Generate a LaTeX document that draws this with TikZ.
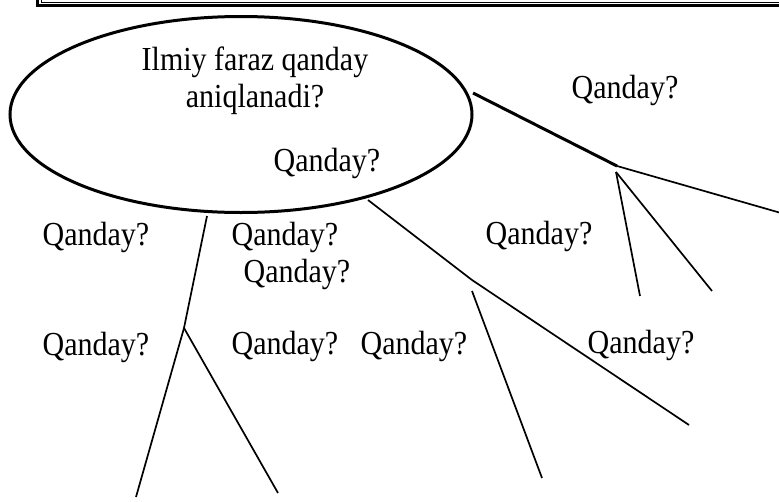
\documentclass[tikz,border=0pt]{standalone}
\usepackage{fontspec}
\usepackage{graphicx}
\setmainfont{Liberation Serif}
\usetikzlibrary{shapes.geometric}
\newcommand{\tallt}[1]{\scalebox{1}[1.12]{#1}}
\begin{document}
\begin{tikzpicture}[x=1pt,y=-1pt,
  lbl/.style={anchor=base,inner sep=0pt,font=\fontsize{30}{34}\selectfont},
  thin/.style={line width=1.7pt},
  thick/.style={line width=3pt},
  oval/.style={draw,ellipse,line width=3pt,minimum width=462pt,minimum height=196pt,inner sep=0pt}]
\useasboundingbox (0,0) rectangle (779,501);
\clip (0,0) rectangle (779,501);
% top frame
\draw[line width=2.4pt] (37.5,-20) rectangle (810,5.5);
\draw[line width=1pt] (41.5,-20) rectangle (810,2.2);
% ellipse
\node[oval] (E) at (241,114.5) {};
\node[lbl] (t1) at (255,70) {\tallt{Ilmiy faraz qanday}};
\node[lbl] (t2) at (255,107) {\tallt{aniqlanadi?}};
\node[lbl] (q0) at (327,171) {\tallt{Qanday?}};
% coordinates
\coordinate (r0) at (473,93);
\coordinate (r1) at (617,166);
\coordinate (r2) at (781,213);
\coordinate (r3) at (616,172);
\coordinate (r4) at (640,296);
\coordinate (r5) at (712,291);
\coordinate (m0) at (368,200);
\coordinate (m1) at (472,280);
\coordinate (m2) at (689,425);
\coordinate (m3) at (472,291);
\coordinate (m4) at (542,478);
\coordinate (l0) at (207,216);
\coordinate (l1) at (184,328);
\coordinate (l2) at (136,497);
\coordinate (l3) at (278,493);
% connectors
\draw[thick] (r0) -- (r1);
\draw[thin] (r1) -- (r2);
\draw[thin] (r3) -- (r4);
\draw[thin] (r3) -- (r5);
\draw[thin] (m0) -- (m1) -- (m2);
\draw[thin] (m3) -- (m4);
\draw[thin] (l0) -- (l1) -- (l2);
\draw[thin] (l1) -- (l3);
% labels
\node[lbl] (q1) at (625,98) {\tallt{Qanday?}};
\node[lbl] (q2) at (96,245) {\tallt{Qanday?}};
\node[lbl] (q3) at (285,245) {\tallt{Qanday?}};
\node[lbl] (q4) at (297,282) {\tallt{Qanday?}};
\node[lbl] (q5) at (539,244) {\tallt{Qanday?}};
\node[lbl] (q6) at (96,355) {\tallt{Qanday?}};
\node[lbl] (q7) at (285,354) {\tallt{Qanday?}};
\node[lbl] (q8) at (414,354) {\tallt{Qanday?}};
\node[lbl] (q9) at (641,353) {\tallt{Qanday?}};
\end{tikzpicture}
\end{document}
